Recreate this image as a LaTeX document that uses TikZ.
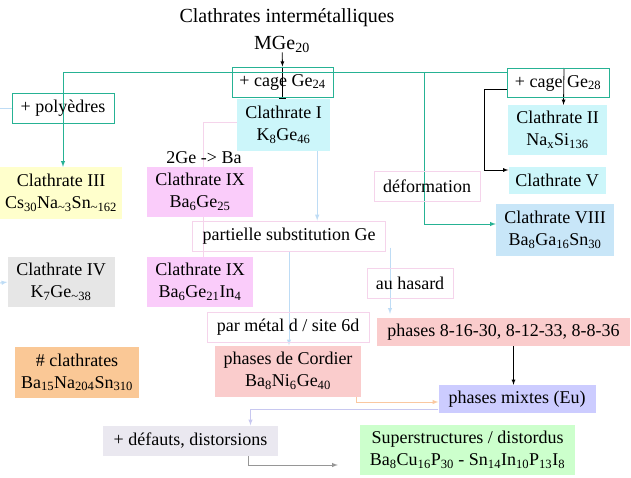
\documentclass[tikz,border=0pt]{standalone}
\usepackage{fontspec}
\setmainfont{Liberation Serif}
\usepackage{xcolor}
\definecolor{tealline}{RGB}{38,178,148}
\definecolor{cyanfill}{RGB}{204,246,250}
\definecolor{bluefill}{RGB}{200,230,248}
\definecolor{magentafill}{RGB}{250,204,250}
\definecolor{yellowfill}{RGB}{255,255,204}
\definecolor{greyfill}{RGB}{230,230,230}
\definecolor{orangefill}{RGB}{250,200,150}
\definecolor{salmonfill}{RGB}{250,204,204}
\definecolor{lavenderfill}{RGB}{204,204,255}
\definecolor{mistfill}{RGB}{234,232,240}
\definecolor{greenfill}{RGB}{204,255,204}
\definecolor{pinkline}{RGB}{245,212,235}
\definecolor{skyline}{RGB}{190,220,245}
\definecolor{peachline}{RGB}{250,200,160}
\definecolor{lilacline}{RGB}{200,200,240}
\definecolor{greyline}{RGB}{150,150,150}
\usepackage{tikz}
\usetikzlibrary{arrows, backgrounds}
\tikzstyle{cell}=[rectangle, inner sep=0pt, align=center]
\tikzstyle{tealbox}=[cell, draw=tealline, line width=1pt]
\tikzstyle{pinkbox}=[cell, draw=pinkline, line width=1pt]
\tikzstyle{arrow}=[line width=0.8pt, ->, >=latex]
\tikzstyle{tealarrow}=[draw=tealline, line width=1pt, ->, >=latex]
\tikzstyle{softarrow}=[line width=1pt, ->, >=latex]

\begin{document}
\begin{tikzpicture}[x=1pt, y=-1pt, font=\fontsize{18}{22}\selectfont]
		\useasboundingbox (0,0) rectangle (631,477);
		
		\node(title)[cell, font=\fontsize{20}{24}\selectfont] at (287,18) {Clathrates intermétalliques};
		\node(mge)[cell, font=\fontsize{20}{24}\selectfont] at (282,44) {MGe\textsubscript{20}};
		
		
		\node(cage24)[tealbox, minimum width=101pt, minimum height=30pt] at (282.5,82) {+ cage Ge\textsubscript{24}};
		\node(cage28)[tealbox, minimum width=102pt, minimum height=29pt] at (558,83) {+ cage Ge\textsubscript{28}};
		\node(poly)[tealbox, minimum width=102pt, minimum height=30pt] at (63,108) {+ polyèdres};
		
		
		\node(cl1)[cell, fill=cyanfill, minimum width=93pt, minimum height=52pt] at (283.5,125) {Clathrate I\\K\textsubscript{8}Ge\textsubscript{46}};
		\node(cl2)[cell, fill=cyanfill, minimum width=99pt, minimum height=50pt] at (557.5,130) {Clathrate II\\Na\textsubscript{x}Si\textsubscript{136}};
		\node(cl5)[cell, fill=cyanfill, minimum width=97pt, minimum height=27pt] at (557,180) {Clathrate V};
		\node(cl8)[cell, fill=bluefill, minimum width=118pt, minimum height=52pt] at (555,230) {Clathrate VIII\\Ba\textsubscript{8}Ga\textsubscript{16}Sn\textsubscript{30}};
		\node(cl3)[cell, fill=yellowfill, minimum width=122pt, minimum height=52pt] at (61,193) {Clathrate III\\Cs\textsubscript{30}Na\textsubscript{\textasciitilde 3}Sn\textsubscript{\textasciitilde 162}};
		\node(cl4)[cell, fill=greyfill, minimum width=107pt, minimum height=50pt] at (61,282) {Clathrate IV\\K\textsubscript{7}Ge\textsubscript{\textasciitilde 38}};
		
		
		\node(ge2ba)[cell] at (204,158) {2Ge -> Ba};
		\node(cl9a)[cell, fill=magentafill, minimum width=106pt, minimum height=50pt] at (200,192) {Clathrate IX\\Ba\textsubscript{6}Ge\textsubscript{25}};
		\node(cl9b)[cell, fill=magentafill, minimum width=106pt, minimum height=50pt] at (200,282) {Clathrate IX\\Ba\textsubscript{6}Ge\textsubscript{21}In\textsubscript{4}};
		
		
		\node(deform)[pinkbox, minimum width=106pt, minimum height=30pt] at (427,186) {déformation};
		\node(partsub)[pinkbox, minimum width=193pt, minimum height=30pt] at (289,236) {partielle substitution Ge};
		\node(hasard)[pinkbox, minimum width=86pt, minimum height=30pt] at (410,283) {au hasard};
		\node(parmetal)[pinkbox, minimum width=162pt, minimum height=30pt] at (288,327) {par métal d / site 6d};
		
		
		\node(ph8)[cell, fill=salmonfill, minimum width=253pt, minimum height=28pt] at (503.5,332) {phases 8-16-30, 8-12-33, 8-8-36};
		\node(cordier)[cell, fill=salmonfill, minimum width=146pt, minimum height=51pt] at (288,371) {phases de Cordier\\Ba\textsubscript{8}Ni\textsubscript{6}Ge\textsubscript{40}};
		\node(phmix)[cell, fill=lavenderfill, minimum width=157pt, minimum height=28pt] at (517,399) {phases mixtes (Eu)};
		\node(nclath)[cell, fill=orangefill, minimum width=124pt, minimum height=51pt] at (77,372.5) {\# clathrates\\Ba\textsubscript{15}Na\textsubscript{204}Sn\textsubscript{310}};
		\node(defauts)[cell, fill=mistfill, minimum width=175pt, minimum height=30pt] at (190.5,440.5) {+ défauts, distorsions};
		\node(superstr)[cell, fill=greenfill, minimum width=215pt, minimum height=50pt] at (467.5,450) {Superstructures / distordus\\Ba\textsubscript{8}Cu\textsubscript{16}P\textsubscript{30} - Sn\textsubscript{14}In\textsubscript{10}P\textsubscript{13}I\textsubscript{8}};
		
		
		\coordinate(tl) at (63,72);
		\coordinate(tr) at (424,72);
		\coordinate(edgeA) at (0,108);
		\coordinate(edgeB) at (0,283);
		
		\begin{scope}[on background layer]
		\draw[arrow](mge)--(cage24.north);
		\draw[line width=0.8pt, -|](cage24.north)--(cage24.north |- cl1.north);
		
		\draw[tealarrow](cage28.west |- tl)--(tl)--(tl |- cl3.north);
		\draw[tealarrow](tr) |- ([yshift=6pt]cl8.west);
		
		\draw[arrow]([xshift=6pt]cage28.north)--([xshift=6pt]cl2.north);
		\draw[arrow]([yshift=-6pt]cage28.west)--++(-22,0) |- ([yshift=10pt]cl5.west);
		
		\draw[draw=pinkline, line width=1pt]([yshift=3pt]cl1.west) -| ([xshift=3pt]cl9b.north);
		\draw[softarrow, draw=skyline]([xshift=-13pt]cl1.south east)--([xshift=-13pt]cl1.south east |- partsub.north);
		\draw[softarrow, draw=skyline](partsub.south)--(partsub.south |- cordier.north);
		\draw[softarrow, draw=skyline]([xshift=4pt, yshift=4pt]partsub.south east)--([xshift=4pt, yshift=4pt]partsub.south east |- ph8.north);
		
		\draw[arrow]([xshift=10pt]ph8.south)--([xshift=10pt]ph8.south |- phmix.north);
		\draw[softarrow, draw=peachline]([xshift=-5pt]cordier.south east) |- ([yshift=-3pt]phmix.west);
		\draw[softarrow, draw=lilacline]([yshift=-10pt]phmix.west) -| ([xshift=60pt]defauts.north);
		\draw[softarrow, draw=greyline, shorten >=22pt]([xshift=58pt]defauts.south) |- ([yshift=-15pt]superstr.west);
		
		\draw[draw=skyline, line width=1pt](poly.west)--(edgeA);
		\draw[softarrow, draw=skyline](edgeB)--(cl4.west);
		\end{scope}
		
	\end{tikzpicture}
\end{document}
